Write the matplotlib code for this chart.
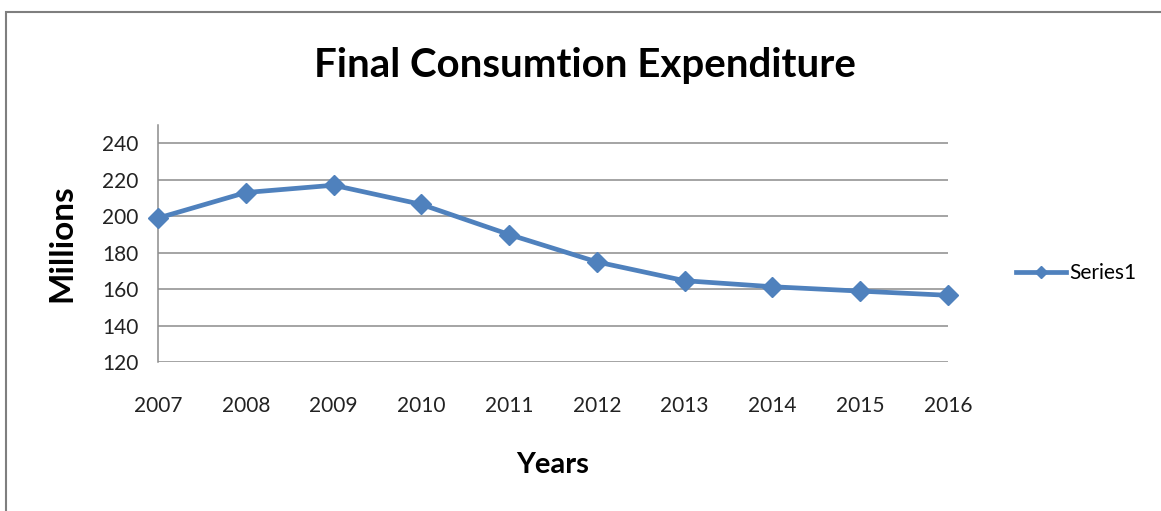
import matplotlib.pyplot as plt
from matplotlib.patches import Rectangle

years = [2007, 2008, 2009, 2010, 2011, 2012, 2013, 2014, 2015, 2016]
values = [199, 213, 217, 206.5, 190, 175, 164.7, 161.4, 159, 156.7]
yticks = [120, 140, 160, 180, 200, 220, 240]

plt.rcParams['font.family'] = ['Lato', 'DejaVu Sans']

fig = plt.figure(figsize=(11.61, 5.11), dpi=100)
ax = fig.add_axes([0.1361, 0.291, 0.6804, 0.4644])

# outer chart frame
fig.patches.append(Rectangle((6 / 1161, -0.05), 1.2, 1 - 12 / 511 + 0.05,
                             transform=fig.transFigure, fill=False,
                             edgecolor='#7f7f7f', lw=1.5))

ax.plot(years, values, color='#4F81BD', lw=3.4, marker='D', markersize=10,
        label='Series1', clip_on=False, zorder=3)

ax.set_xlim(2007, 2016)
ax.set_ylim(120, 250)
ax.set_yticks(yticks)
ax.set_xticks(years)
ax.set_xticklabels([str(y) for y in years], fontsize=15, color='#222222')
ax.set_yticklabels([str(v) for v in yticks], fontsize=15, color='#222222')
ax.tick_params(length=0, pad=14)
ax.tick_params(axis='x', pad=24)

for v in yticks:
    ax.axhline(v, color='#8c8c8c', lw=1.1, zorder=1)

for s in ['top', 'right', 'bottom']:
    ax.spines[s].set_visible(False)
ax.spines['left'].set_color('#8c8c8c')
ax.spines['left'].set_linewidth(1.1)

fig.text(585 / 1161, 1 - 65 / 511, 'Final Consumtion Expenditure',
         ha='center', va='center', fontsize=29, fontweight='bold')
fig.text(62 / 1161, 1 - 243 / 511, 'Millions', ha='center', va='center',
         rotation=90, fontsize=24, fontweight='bold')
fig.text(553 / 1161, 1 - 465 / 511, 'Years', ha='center', va='center',
         fontsize=21, fontweight='bold')

ax.legend(loc='center left', bbox_to_anchor=(1.062, 0.375), frameon=False,
          fontsize=15, handlelength=2.4, handletextpad=0.15, markerscale=0.6)

fig.savefig('out.png', dpi=100)
